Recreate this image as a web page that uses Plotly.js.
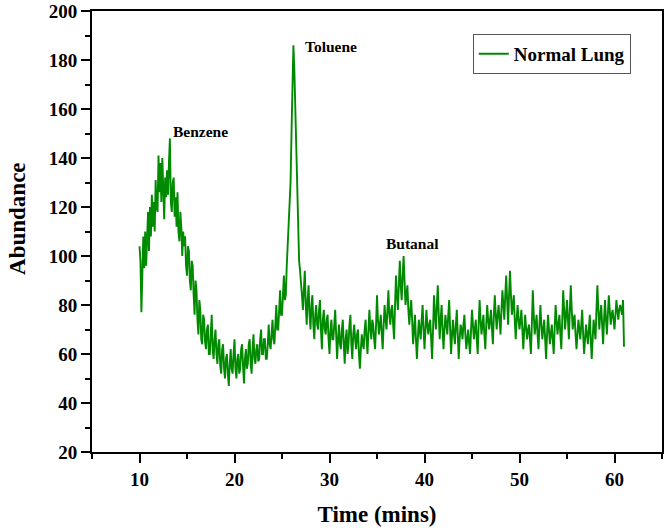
<!DOCTYPE html>
<html>
<head>
<meta charset="utf-8">
<script src="https://cdn.plot.ly/plotly-3.0.1.min.js"></script>
<style>html,body{margin:0;padding:0;background:#fff;}#chart{width:666px;height:531px;}</style>
</head>
<body>
<div id="chart"></div>
<script>
// Sampling of the chromatogram (minutes)
const startTime = 10.0;
const stepMins = 0.1;

// Abundance, one value per 0.1 min from 10.0 to 61.0
const abundance = [
  104, 98, 77, 100, 108, 95, 110, 96, 112, 118,
  102, 120, 108, 125, 112, 122, 110, 131, 120, 118,
  141, 126, 138, 122, 140, 128, 115, 132, 124, 135,
  125, 138, 148, 122, 118, 130, 132, 116, 124, 112,
  126, 110, 106, 118, 112, 100, 110, 104, 108, 96,
  92, 104, 102, 90, 86, 98, 96, 84, 76, 90,
  86, 74, 68, 82, 78, 66, 64, 76, 74, 65,
  62, 70, 72, 60, 60, 68, 76, 62, 58, 66,
  70, 60, 56, 64, 66, 55, 52, 62, 64, 54,
  50, 58, 60, 52, 47, 56, 62, 54, 52, 60,
  66, 54, 50, 58, 60, 52, 54, 62, 64, 55,
  48, 58, 62, 54, 56, 64, 66, 56, 52, 62,
  68, 58, 56, 62, 64, 57, 58, 66, 70, 60,
  60, 66, 66, 58, 58, 64, 72, 64, 62, 68,
  74, 66, 64, 72, 80, 70, 70, 78, 86, 76,
  76, 84, 92, 82, 84, 96, 104, 110, 118, 130,
  150, 172, 186, 176, 160, 140, 118, 106, 98, 94,
  90, 84, 78, 88, 94, 80, 72, 82, 88, 76,
  70, 80, 84, 72, 66, 76, 80, 72, 70, 78,
  82, 70, 62, 74, 78, 70, 68, 74, 76, 66,
  60, 70, 74, 66, 66, 72, 78, 68, 58, 66,
  72, 64, 62, 70, 74, 64, 56, 66, 70, 60,
  64, 72, 76, 64, 58, 68, 72, 66, 62, 68,
  70, 60, 54, 62, 68, 64, 62, 70, 74, 66,
  60, 70, 78, 70, 66, 74, 72, 66, 62, 72,
  84, 74, 68, 72, 76, 68, 62, 72, 80, 74,
  70, 78, 86, 76, 72, 78, 80, 72, 66, 80,
  92, 84, 78, 88, 98, 88, 82, 92, 100, 90,
  80, 84, 88, 78, 72, 78, 82, 74, 64, 70,
  76, 66, 58, 66, 74, 70, 66, 74, 80, 70,
  62, 70, 78, 72, 68, 72, 74, 66, 58, 70,
  84, 76, 70, 80, 88, 76, 66, 74, 80, 70,
  62, 70, 76, 72, 68, 76, 82, 70, 60, 68,
  74, 68, 64, 72, 78, 68, 58, 66, 72, 70,
  66, 72, 76, 68, 62, 66, 70, 64, 60, 70,
  78, 72, 66, 70, 74, 66, 60, 72, 82, 74,
  68, 72, 76, 68, 62, 72, 80, 74, 70, 74,
  78, 70, 64, 76, 84, 76, 70, 76, 80, 74,
  68, 78, 86, 80, 74, 84, 92, 82, 72, 84,
  94, 84, 76, 80, 84, 74, 66, 74, 80, 74,
  70, 74, 78, 70, 62, 70, 76, 70, 66, 70,
  72, 66, 60, 72, 86, 76, 68, 72, 76, 68,
  62, 72, 80, 72, 66, 70, 74, 66, 58, 68,
  76, 70, 64, 68, 72, 66, 60, 70, 80, 74,
  68, 72, 76, 68, 62, 74, 86, 78, 70, 76,
  82, 74, 66, 78, 88, 78, 70, 74, 76, 68,
  62, 68, 74, 70, 66, 72, 78, 68, 60, 66,
  72, 68, 64, 70, 76, 66, 58, 66, 74, 70,
  66, 78, 88, 78, 70, 76, 80, 72, 64, 74,
  82, 74, 68, 76, 84, 78, 72, 76, 78, 74,
  70, 76, 82, 78, 74, 78, 80, 78, 76, 82,
  63
];

const seriesName = 'Normal Lung';
const peakLabels = ['Benzene', 'Toluene', 'Butanal'];
const peakLabelX = [16.4, 30.2, 38.7];
const peakLabelY = [151, 185.5, 105];

const xTickVals = [10, 20, 30, 40, 50, 60];
const yTickVals = [20, 40, 60, 80, 100, 120, 140, 160, 180, 200];

const times = abundance.map((_, i) => +(startTime + i * stepMins).toFixed(2));

const serif = 'Liberation Serif, Times New Roman, serif';

const trace = {
  x: times,
  y: abundance,
  type: 'scatter',
  mode: 'lines',
  name: seriesName,
  line: {color: '#008a00', width: 1.9}
};

const annotations = peakLabels.map((t, i) => ({
  x: peakLabelX[i], y: peakLabelY[i], xref: 'x', yref: 'y',
  text: t, showarrow: false,
  font: {family: serif, size: 15.5, color: '#000', weight: 'bold'}
}));
annotations.push({
  x: -0.132, y: 0.528, xref: 'paper', yref: 'paper',
  xanchor: 'center', yanchor: 'middle', textangle: -90,
  text: 'Abundance', showarrow: false,
  font: {family: serif, size: 23, color: '#000', weight: 'bold'}
});

const axisCommon = {
  showline: true, mirror: true, linecolor: '#000', linewidth: 2,
  showgrid: false, zeroline: false,
  ticks: 'outside', ticklen: 9, tickwidth: 2, tickcolor: '#000',
  tickfont: {family: serif, size: 19, color: '#000', weight: 'bold'}
};

const layout = {
  width: 666, height: 531,
  margin: {l: 92, r: 4, t: 11, b: 79},
  paper_bgcolor: '#fff', plot_bgcolor: '#fff',
  showlegend: true,
  legend: {
    x: 0.668, y: 0.948, xanchor: 'left', yanchor: 'top',
    bordercolor: '#555', borderwidth: 1, bgcolor: '#fff',
    font: {family: serif, size: 19, color: '#000', weight: 'bold'},
    tracegroupgap: 0
  },
  xaxis: Object.assign({}, axisCommon, {
    range: [5, 65], tickvals: xTickVals,
    minor: {ticks: 'outside', ticklen: 5, tickwidth: 2, tickcolor: '#000', dtick: 5, tick0: 5},
    title: {text: 'Time (mins)', standoff: 17, font: {family: serif, size: 23, color: '#000', weight: 'bold'}}
  }),
  yaxis: Object.assign({}, axisCommon, {
    range: [20, 200], tickvals: yTickVals,
    minor: {ticks: 'outside', ticklen: 5, tickwidth: 2, tickcolor: '#000', dtick: 10, tick0: 10}
  }),
  annotations: annotations
};

Plotly.newPlot('chart', [trace], layout, {displayModeBar: false, staticPlot: true});
</script>
</body>
</html>
